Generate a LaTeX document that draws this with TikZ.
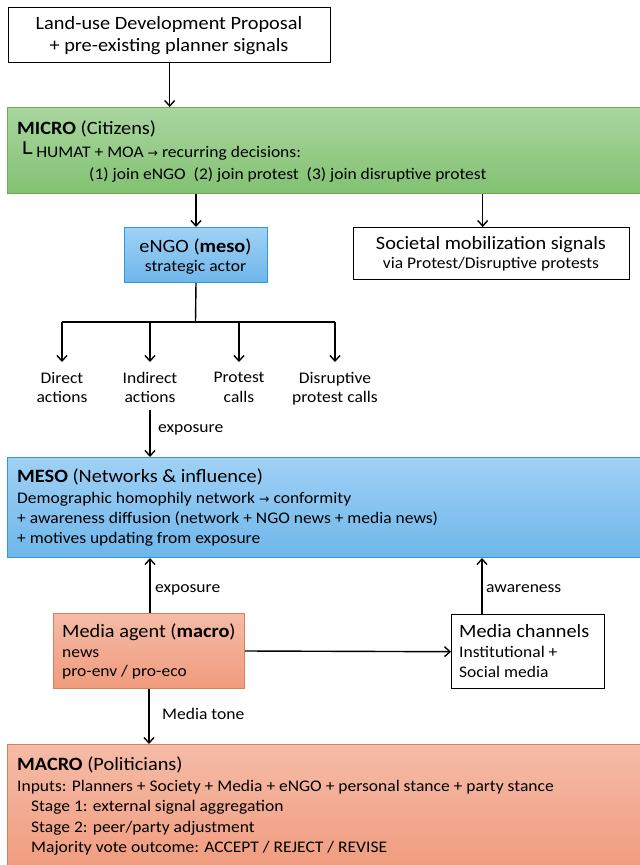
\documentclass[tikz,border=0pt]{standalone}
\usepackage{fontspec}
\usepackage{graphicx}
\setmainfont[FakeStretch=1.08]{Carlito}
\newfontfamily\symf{DejaVu Sans}
\usetikzlibrary{arrows.meta}
\definecolor{grT}{HTML}{A9D6A0}
\definecolor{grB}{HTML}{82C171}
\definecolor{grE}{HTML}{6AAE4F}
\definecolor{blT}{HTML}{A0D1F5}
\definecolor{blB}{HTML}{6EB6EA}
\definecolor{blE}{HTML}{2E9AD6}
\definecolor{orT}{HTML}{F5BBA7}
\definecolor{orB}{HTML}{F09B7D}
\definecolor{orE}{HTML}{DE7E56}
\newcommand\hdr{\fontsize{18.8}{22}\selectfont}
\newcommand\bdy{\fontsize{16.2}{19.5}\selectfont}
\newcommand\sarrow{{\symf\fontsize{12.5}{12.5}\selectfont →}}
\newcommand\corner{{\symf\fontsize{20}{20}\selectfont\raisebox{-3.5pt}{\scalebox{1.25}[1]{└}}}}
\begin{document}
\begin{tikzpicture}[x=1pt,y=-1pt,
  box/.style={draw, line width=1.4pt, inner sep=0pt, anchor=north west},
  greenbox/.style={box, draw=grE, line width=1pt, top color=grT, bottom color=grB},
  bluebox/.style={box, draw=blE, line width=1pt, top color=blT, bottom color=blB},
  orangebox/.style={box, draw=orE, line width=1pt, top color=orT, bottom color=orB},
  hd/.style={anchor=base west, inner sep=0pt, font=\hdr},
  bd/.style={anchor=base west, inner sep=0pt, font=\bdy},
  hdc/.style={anchor=base, inner sep=0pt, font=\hdr},
  bdc/.style={anchor=base, inner sep=0pt, font=\bdy},
  lbl/.style={anchor=north, inner sep=0pt, align=center, font=\bdy},
  arr/.style={-{Straight Barb[length=5.5pt,width=10pt]}, line width=1.4pt},
  ln/.style={line width=1.4pt}]
\useasboundingbox (0,0) rectangle (640,865);

% boxes
\node[box, minimum width=322pt, minimum height=55pt] (top) at (8,7) {};
\node[greenbox, minimum width=645pt, minimum height=86pt] (micro) at (7,107) {};
\node[bluebox, minimum width=143pt, minimum height=55pt] (engo) at (124,227) {};
\node[box, minimum width=276pt, minimum height=52pt] (soc) at (353,227) {};
\node[bluebox, minimum width=645pt, minimum height=100pt] (meso) at (7,457) {};
\node[orangebox, minimum width=191pt, minimum height=75pt] (media) at (53,613) {};
\node[box, minimum width=153pt, minimum height=74pt] (chan) at (451,614) {};
\node[orangebox, minimum width=645pt, minimum height=130pt] (macro) at (7,744) {};

% texts
\node[hdc] (t1) at (169,29) {Land-use Development Proposal};
\node[hdc] (t2) at (169,51) {+ pre-existing planner signals};

\node[hd] (m1) at (17,134) {\textbf{MICRO} (Citizens)};
\node[bd] (m2) at (17,157) {\corner\hspace{4pt}HUMAT + MOA \sarrow{} recurring decisions:};
\node[bd] (m3) at (89,179) {(1) join eNGO\ \ (2) join protest\ \ (3) join disruptive protest};

\node[hdc] (e1) at (195.5,252) {eNGO (\textbf{meso})};
\node[bdc] (e2) at (195.5,271) {strategic actor};

\node[hdc] (s1) at (491,249) {Societal mobilization signals};
\node[bdc] (s2) at (491,268) {via Protest/Disruptive protests};

\node[lbl] (a1) at (62,372) {Direct\\actions};
\node[lbl] (a2) at (150,372) {Indirect\\actions};
\node[lbl] (a3) at (239,372) {Protest\\calls};
\node[lbl] (a4) at (335,372) {Disruptive\\protest calls};

\node[bd] (x1) at (158,432) {exposure};

\node[hd] (z1) at (17,482) {\textbf{MESO} (Networks \& influence)};
\node[bd] (z2) at (17,503) {Demographic homophily network \sarrow{} conformity};
\node[bd] (z3) at (17,523) {+ awareness diffusion (network + NGO news + media news)};
\node[bd] (z4) at (17,543) {+ motives updating from exposure};

\node[bd] (x2) at (155,592) {exposure};
\node[bd] (x3) at (486,592) {awareness};

\node[hd] (g1) at (62,637) {Media agent (\textbf{macro})};
\node[bd] (g2) at (62,657) {news};
\node[bd] (g3) at (62,676) {pro-env / pro-eco};

\node[hd] (c1) at (459,637) {Media channels};
\node[bd] (c2) at (459,657) {Institutional +};
\node[bd] (c3) at (459,677) {Social media};

\node[bd] (x4) at (162,719) {Media tone};

\node[hd] (r1) at (17,770) {\textbf{MACRO} (Politicians)};
\node[bd] (r2) at (17,791) {Inputs: Planners + Society + Media + eNGO + personal stance + party stance};
\node[bd] (r3) at (31,811) {Stage 1: external signal aggregation};
\node[bd] (r4) at (31,832) {Stage 2: peer/party adjustment};
\node[bd] (r5) at (31,852) {Majority vote outcome: ACCEPT / REJECT / REVISE};

% connectors
\draw[arr] (top.south) -- (top.south |- micro.north);
\draw[arr] (micro.south -| engo.north) -- (engo.north);
\coordinate (sa) at ([xshift=-9pt]soc.north);
\draw[arr] (micro.south -| sa) -- (sa);
\coordinate (j) at (195.5,322);
\draw[ln] (engo.south) -- (j);
\draw[ln] (j -| a1) -- (j -| a4);
\draw[arr] (j -| a1) -- ([yshift=10pt]a1.north);
\draw[arr] (j -| a2) -- ([yshift=10pt]a2.north);
\draw[arr] (j -| a3) -- ([yshift=10pt]a3.north);
\draw[arr] (j -| a4) -- ([yshift=10pt]a4.north);
\draw[arr] ([yshift=-7pt]a2.south) -- (a2.south |- meso.north);
\draw[arr] (media.north -| a2) -- (a2 |- meso.south);
\coordinate (ca) at ([xshift=31pt]chan.north west);
\draw[arr] (ca) -- (ca |- meso.south);
\draw[arr] (media.east) -- (chan.west);
\draw[arr] (media.south) -- (media.south |- macro.north);
\end{tikzpicture}
\end{document}
